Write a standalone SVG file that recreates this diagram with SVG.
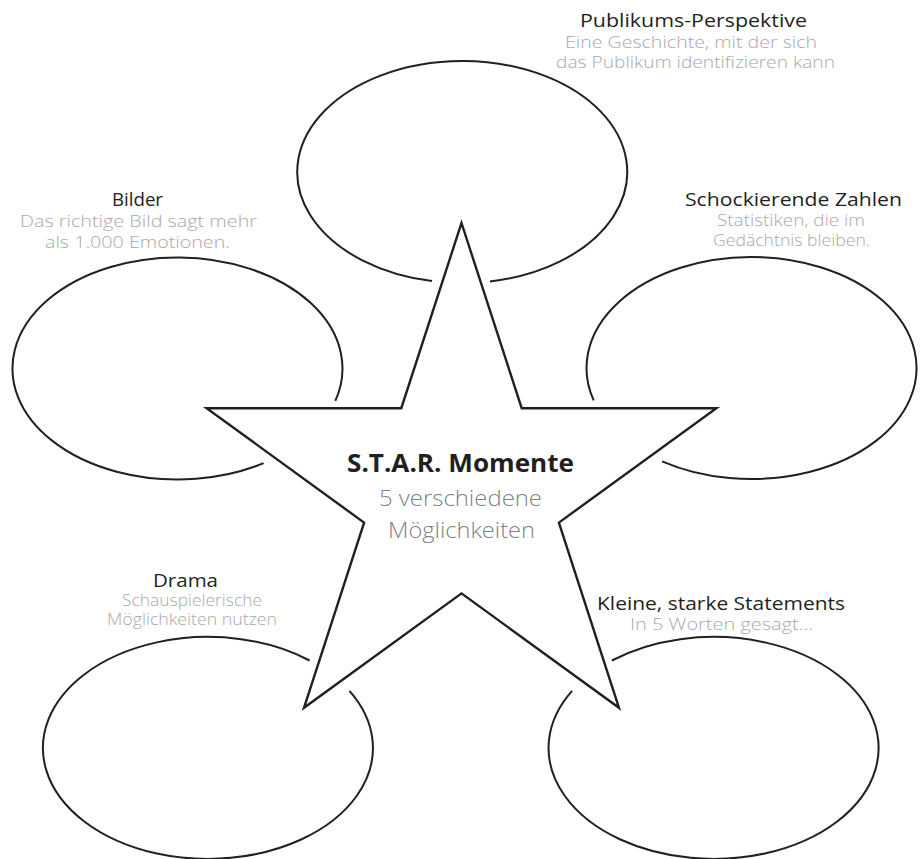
<svg xmlns="http://www.w3.org/2000/svg" width="923" height="859" viewBox="0 0 923 859">
<style>
.shape{fill:none;stroke:#231f20;stroke-width:2}
.star{fill:#fff;stroke:#231f20;stroke-width:2.4;stroke-linejoin:miter}
text{text-anchor:middle;font-family:"Open Sans","Noto Sans","Liberation Sans",sans-serif}
.lbl{font-size:19px;font-weight:400;fill:#231f20}
.sub{font-weight:300;font-size:17px;fill:#a7a9ac}
.title{font-weight:700;font-size:25px;fill:#231f20}
.csub{font-weight:300;font-size:22.5px;fill:#808285}
</style>
<rect width="923" height="859" fill="#fff"/>
<g id="node-publikum">
<path class="shape" d="M432 281.1 A165 111 0 1 1 490 281.4"/>
<text class="lbl" x="693.5" y="27" textLength="227" lengthAdjust="spacingAndGlyphs">Publikums-Perspektive</text>
<text class="sub" x="691" y="48" textLength="252" lengthAdjust="spacingAndGlyphs">Eine Geschichte, mit der sich</text>
<text class="sub" x="695.5" y="68" textLength="279" lengthAdjust="spacingAndGlyphs">das Publikum identifizieren kann</text>
</g>
<g id="node-bilder">
<path class="shape" d="M263.6 463.2 A165 111 0 1 1 335.3 400.9"/>
<text class="lbl" x="137.5" y="206" textLength="51" lengthAdjust="spacingAndGlyphs">Bilder</text>
<text class="sub" x="138.5" y="227" textLength="237" lengthAdjust="spacingAndGlyphs">Das richtige Bild sagt mehr</text>
<text class="sub" x="137.5" y="248" textLength="185" lengthAdjust="spacingAndGlyphs">als 1.000 Emotionen.</text>
</g>
<g id="node-zahlen">
<path class="shape" d="M593.7 400.4 A165 111 0 1 1 662.1 461.3"/>
<text class="lbl" x="793.5" y="206" textLength="217" lengthAdjust="spacingAndGlyphs">Schockierende Zahlen</text>
<text class="sub" x="791" y="226" textLength="148" lengthAdjust="spacingAndGlyphs">Statistiken, die im</text>
<text class="sub" x="791.5" y="246" textLength="157" lengthAdjust="spacingAndGlyphs">Gedächtnis bleiben.</text>
</g>
<g id="node-drama">
<path class="shape" d="M349.4 690.8 A165 111 0 1 1 309.6 660.5"/>
<text class="lbl" x="185.5" y="587" textLength="65" lengthAdjust="spacingAndGlyphs">Drama</text>
<text class="sub" x="192" y="606" textLength="140" lengthAdjust="spacingAndGlyphs">Schauspielerische</text>
<text class="sub" x="192" y="625" textLength="170" lengthAdjust="spacingAndGlyphs">Möglichkeiten nutzen</text>
</g>
<g id="node-statements">
<path class="shape" d="M611.9 660.5 A165 111 0 1 1 572.1 690.8"/>
<text class="lbl" x="721" y="610" textLength="248" lengthAdjust="spacingAndGlyphs">Kleine, starke Statements</text>
<text class="sub" x="721.5" y="630" textLength="183" lengthAdjust="spacingAndGlyphs">In 5 Worten gesagt…</text>
</g>
<g id="node-star">
<polygon class="star" points="461.5,223 521.7,408.2 716.4,408.2 558.9,522.6 619,707.8 461.5,593.4 304,707.8 364.1,522.6 206.6,408.2 401.3,408.2"/>
<text class="title" x="460.5" y="472" textLength="227" lengthAdjust="spacingAndGlyphs">S.T.A.R. Momente</text>
<text class="csub" x="460.5" y="506" textLength="163" lengthAdjust="spacingAndGlyphs">5 verschiedene</text>
<text class="csub" x="461.5" y="538" textLength="147" lengthAdjust="spacingAndGlyphs">Möglichkeiten</text>
</g>
</svg>
